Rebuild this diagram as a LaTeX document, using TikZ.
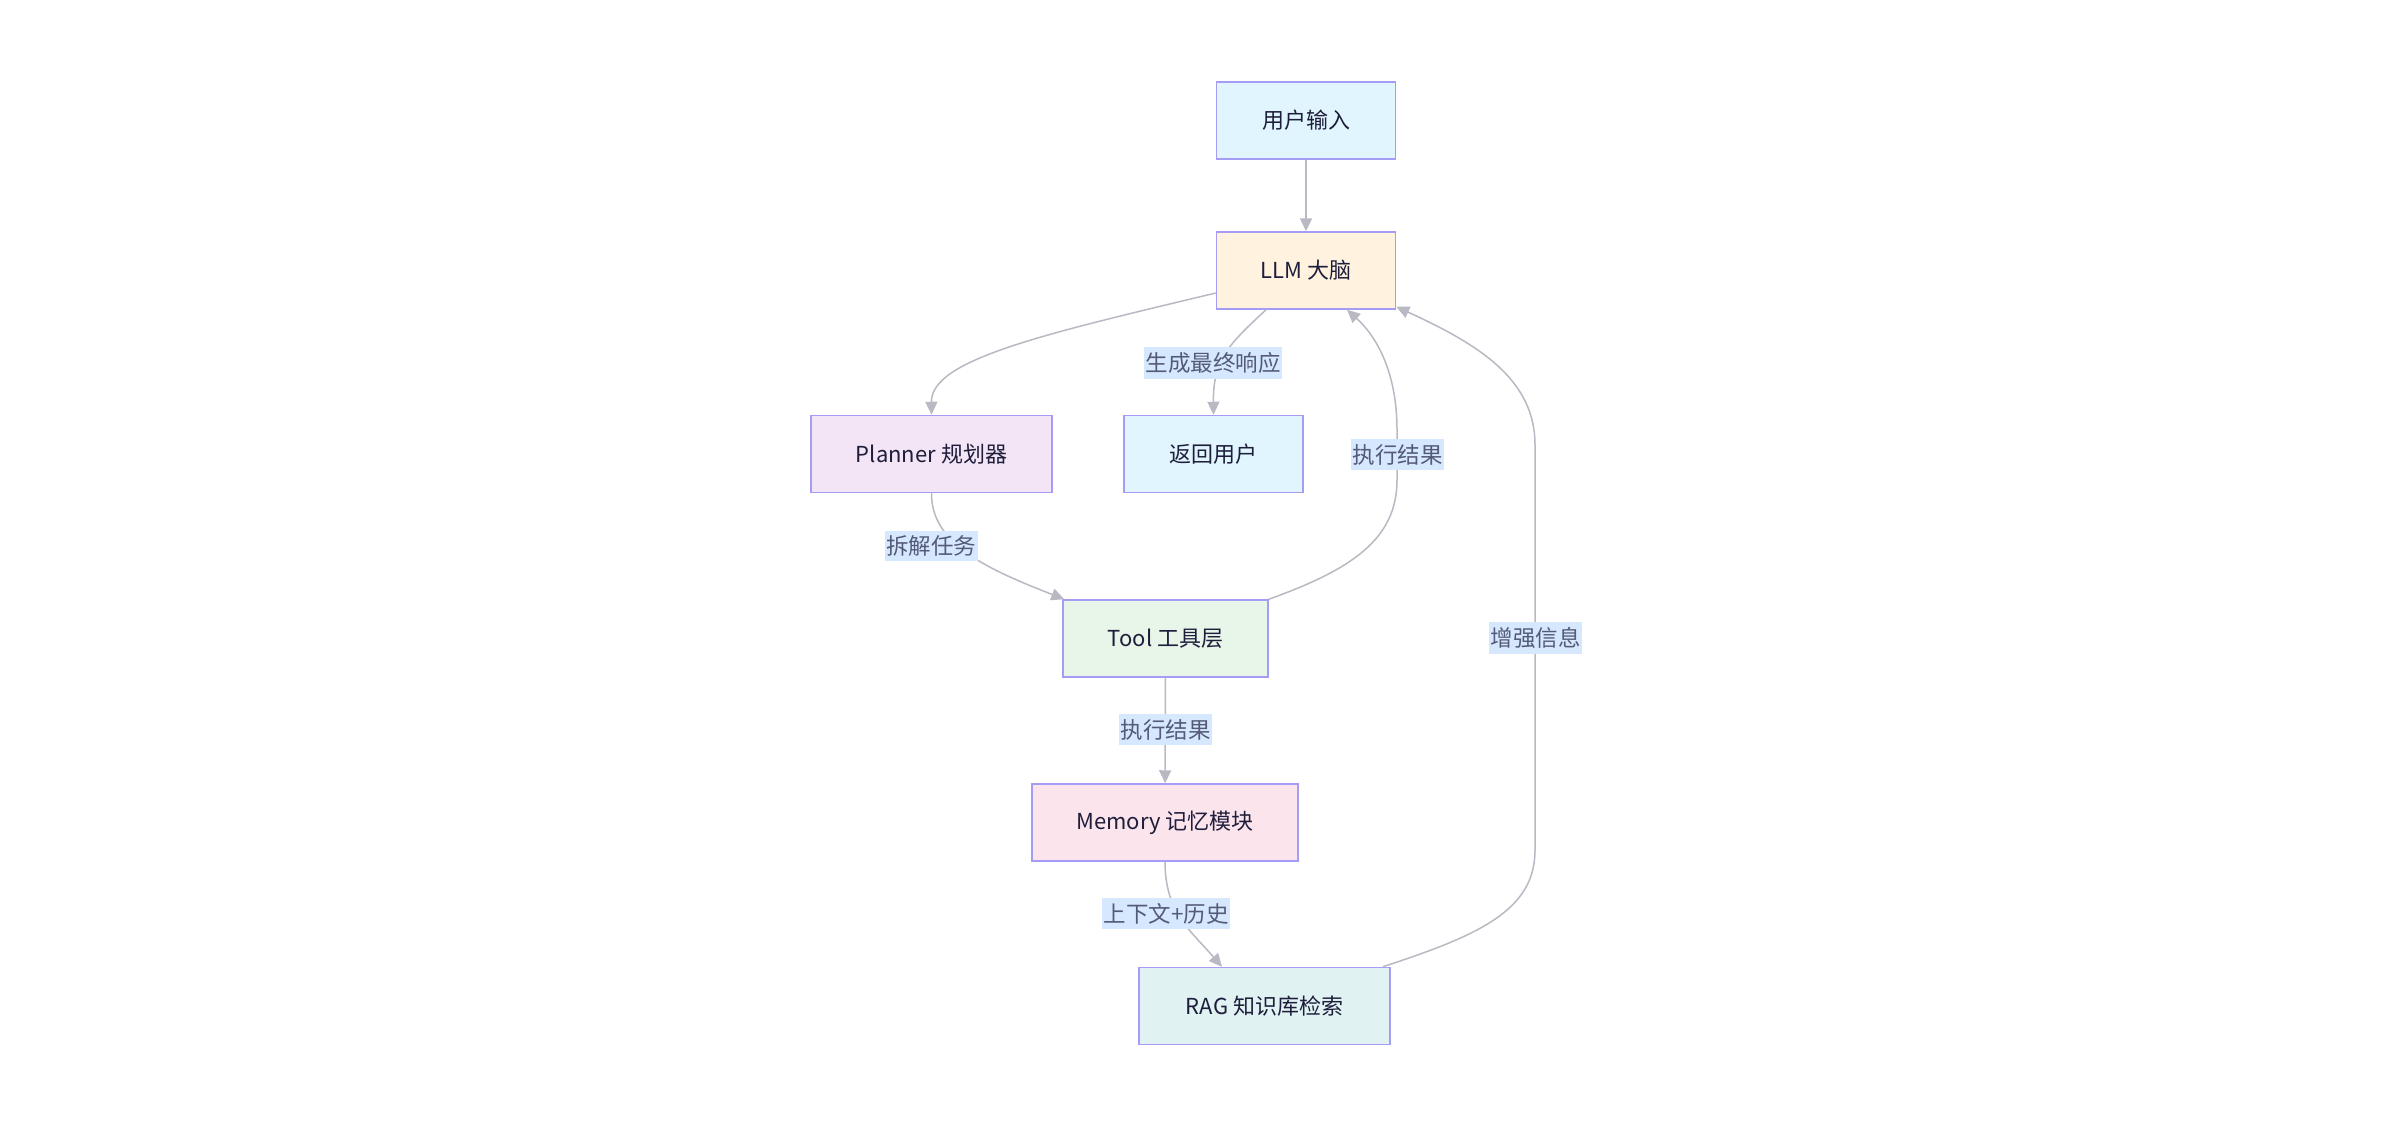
\documentclass[tikz,border=0pt]{standalone}
\usepackage{fontspec}
\setmainfont{Noto Sans CJK SC}
\usetikzlibrary{arrows.meta,calc}
\definecolor{edgecol}{HTML}{B9B9C3}
\definecolor{boxborder}{HTML}{A59CF5}
\definecolor{nodetext}{HTML}{1E1E3C}
\definecolor{labelbg}{HTML}{D5E8FE}
\definecolor{labeltext}{HTML}{545A78}
\definecolor{fblue}{HTML}{E1F5FE}
\definecolor{forange}{HTML}{FFF3E0}
\definecolor{fpurple}{HTML}{F3E5F5}
\definecolor{fgreen}{HTML}{E8F5E9}
\definecolor{fpink}{HTML}{FCE4EC}
\definecolor{fteal}{HTML}{E0F2F1}
\begin{document}
\begin{tikzpicture}[x=1pt,y=-1pt,
  box/.style={draw=boxborder, line width=1.5pt, minimum height=77pt, inner sep=0pt,
    font=\fontsize{22}{26}\selectfont, text=nodetext},
  elabel/.style={fill=labelbg, text=labeltext, inner xsep=1.5pt, inner ysep=5pt,
    font=\fontsize{22.5}{26}\selectfont},
  conn/.style={draw=edgecol, line width=1.5pt, -{Triangle[length=13pt,width=12pt]}}]
\path[fill=white,use as bounding box] (0,0) rectangle (2395,1129);

\node[box, fill=fblue,   minimum width=179pt] (input)   at (1306,120.5) {用户输入};
\node[box, fill=forange, minimum width=179pt] (llm)     at (1306,270.5) {LLM 大脑};
\node[box, fill=fpurple, minimum width=241pt] (planner) at (931.5,454)  {Planner 规划器};
\node[box, fill=fblue,   minimum width=179pt] (ret)     at (1213.5,454) {返回用户};
\node[box, fill=fgreen,  minimum width=205pt] (tool)    at (1165.5,638.5) {Tool 工具层};
\node[box, fill=fpink,   minimum width=266pt] (mem)     at (1165,822.5) {Memory 记忆模块};
\node[box, fill=fteal,   minimum width=251pt] (rag)     at (1264.5,1006) {RAG 知识库检索};

% connectors
\draw[conn] (input) -- (llm);
\draw[conn] ($(llm.west)+(0,22.5)$) .. controls (1040,335) and (931,360) .. (planner.north);
\draw[conn] ($(llm.south)+(-40,0)$) .. controls (1228,345) and (1213,360) .. (ret.north);
\draw[conn] (planner.south) .. controls (931,545) and (990,570) .. ($(tool.north west)+(2,0)$);
\draw[conn] (tool.north east) .. controls (1350,570) and (1397,540) .. (1397,480)
  -- (1397,430) .. controls (1397,370) and (1375,335) .. ($(llm.south)+(41,0)$);
\draw[conn] (tool) -- (mem);
\draw[conn] (mem.south) .. controls (1165,912) and (1190,930) .. ($(rag.north)+(-42.5,0)$);
\draw[conn] ($(rag.north east)+(-8,0)$) .. controls (1480,935) and (1535,910) .. (1535,850)
  -- (1535,445) .. controls (1535,380) and (1480,345) .. ($(llm.south east)+(0,-3)$);

% edge labels
\node[elabel] (l1) at (1213,363) {生成最终响应};
\node[elabel] (l2) at (1397.5,454.5) {执行结果};
\node[elabel] (l3) at (931,546) {拆解任务};
\node[elabel] (l4) at (1165.5,729.5) {执行结果};
\node[elabel] (l5) at (1166,913.5) {上下文+历史};
\node[elabel] (l6) at (1535.5,638) {增强信息};
\end{tikzpicture}
\end{document}
